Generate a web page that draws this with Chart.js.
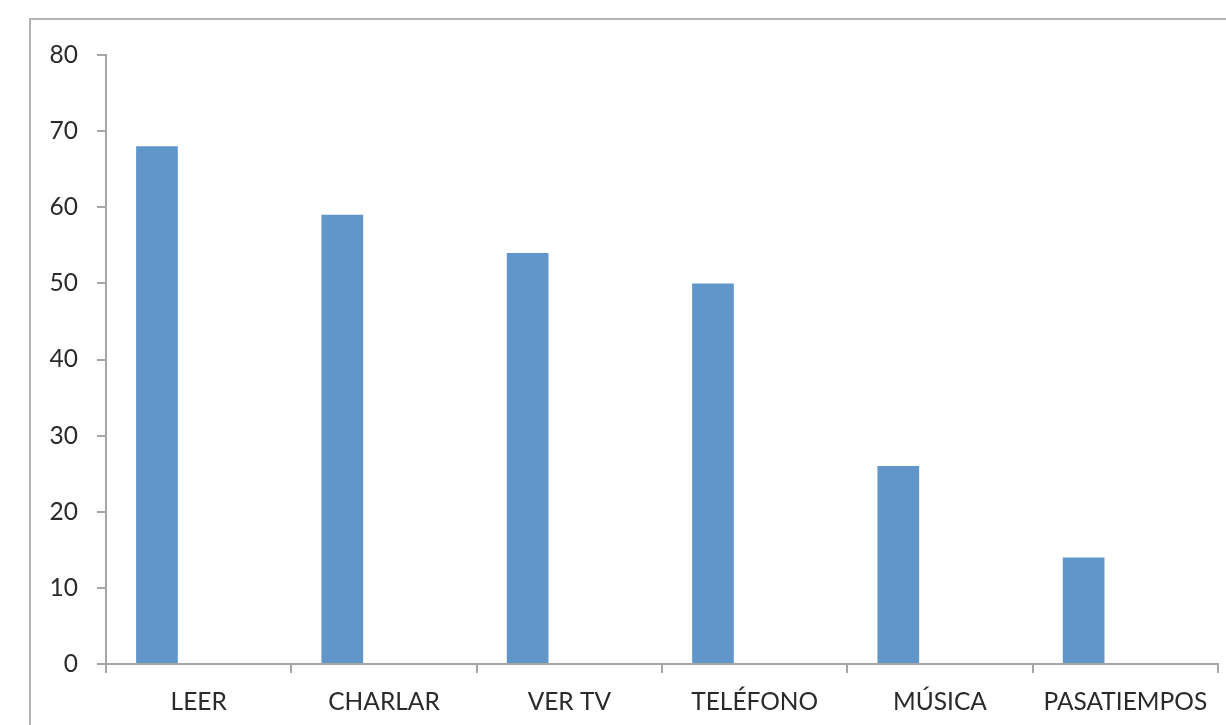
<!DOCTYPE html>
<html>
<head>
<meta charset="utf-8">
<script src="https://cdn.jsdelivr.net/npm/chart.js@4/dist/chart.umd.min.js"></script>
<style>
  html, body { margin: 0; padding: 0; background: #fff; overflow: hidden; }
  #frame {
    position: absolute; left: 29px; top: 18px;
    width: 1300px; height: 800px;
    border: 2px solid #b4b4b4;
  }
  #wrap { position: absolute; left: 0; top: 0; width: 1226px; height: 725px; }
</style>
</head>
<body>
<div id="frame"></div>
<div id="wrap"><canvas id="ctx"></canvas></div>
<script>
'use strict';
const categories = ['LEER', 'CHARLAR', 'VER TV', 'TELÉFONO', 'MÚSICA', 'PASATIEMPOS'];
const values = [68, 59, 54, 50, 26, 14];
// empty second series keeps each bar on the left half of its slot
const emptySeries = [null, null, null, null, null, null];
const yTicks = [0, 10, 20, 30, 40, 50, 60, 70, 80];

const axisColor = '#a6a6a6';
const textColor = '#2a2a2a';
const font = { family: 'Lato, "Open Sans", sans-serif', size: 24.5 };

const ctx = document.getElementById('ctx');
const myChart = new Chart(ctx, {
  type: 'bar',
  data: {
    labels: categories,
    datasets: [
      { data: values, backgroundColor: '#6096c9', categoryPercentage: 0.9, barPercentage: 0.5 },
      { data: emptySeries, backgroundColor: '#c0504d', categoryPercentage: 0.9, barPercentage: 0.5 }
    ]
  },
  options: {
    responsive: true,
    maintainAspectRatio: false,
    animation: false,
    layout: { padding: { top: 55, right: 8, left: 0, bottom: 0 } },
    plugins: { legend: { display: false }, tooltip: { enabled: false } },
    scales: {
      x: {
        grid: { display: true, drawOnChartArea: false, drawTicks: true, tickLength: 9, color: axisColor, lineWidth: 2 },
        border: { display: true, color: axisColor, width: 2 },
        ticks: { color: textColor, font: font, padding: 14, maxRotation: 0, autoSkip: false },
        afterFit: (scale) => { scale.height = 61; }
      },
      y: {
        min: 0,
        max: 80,
        afterBuildTicks: (scale) => { scale.ticks = yTicks.map(v => ({ value: v })); },
        grid: { display: true, drawOnChartArea: false, drawTicks: true, tickLength: 9, color: axisColor, lineWidth: 2 },
        border: { display: true, color: axisColor, width: 2 },
        ticks: { color: textColor, font: font, padding: 19 },
        afterFit: (scale) => { scale.width = 106; }
      }
    }
  }
});
</script>
</body>
</html>
